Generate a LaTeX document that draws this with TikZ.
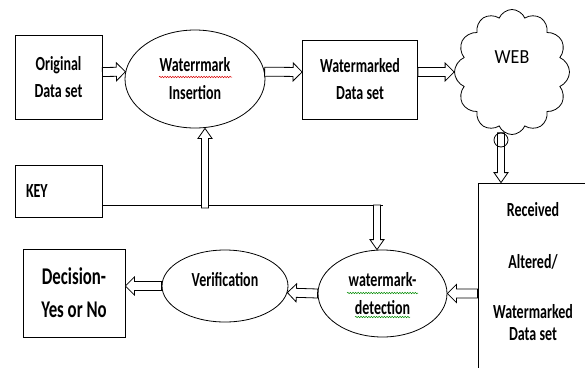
\documentclass[tikz,border=0pt]{standalone}
\usepackage{fontspec}
\newfontfamily\lbl{Carlito}[FakeStretch=0.7]
\newfontfamily\webf{Carlito}[FakeStretch=0.9]
\usetikzlibrary{shapes.geometric,shapes.symbols,calc,decorations.pathmorphing}
\tikzset{
 lw/.style={line width=0.8pt},
 box/.style={draw, lw, rectangle, align=center, font=\lbl\bfseries\fontsize{20}{27}\selectfont},
 oval/.style={draw, lw, ellipse, align=center, font=\lbl\bfseries\fontsize{20}{28}\selectfont},
 hollow/.style n args={3}{to path={
   let \p1=(\tikztostart), \p2=(\tikztotarget),
       \n1={atan2(\y2-\y1,\x2-\x1)}, \n2={veclen(\x2-\x1,\y2-\y1)} in
   (\p1) -- ++(\n1+90:#1) -- ++(\n1:{\n2-#3}) -- ++(\n1+90:{#2-#1}) -- (\p2)
   -- ($(\p2)+(\n1+180:#3)+(\n1-90:#2)$) -- ++(\n1+90:{#2-#1})
   -- ($(\p1)+(\n1-90:#1)$) -- cycle}},
 harr/.style={draw, fill=white, lw, hollow={4.5pt}{9pt}{9pt}},
 varr/.style={draw, fill=white, lw, hollow={3.5pt}{7pt}{10pt}},
 wavy/.style={decorate, decoration={snake, amplitude=0.7pt, segment length=2.6pt}, line width=0.5pt},
}
\begin{document}
\begin{tikzpicture}[x=1pt,y=-1pt]
\useasboundingbox (0,0) rectangle (585,367);
\fill[white] (0,0) rectangle (585,367);
\clip (0,0) rectangle (585,367);

\node[box, minimum width=87pt, minimum height=84pt] (orig) at (58.5,77) {Original\\Data set};
\node[oval, minimum width=140pt, minimum height=98pt] (ins) at (195,79) {Waterrmark\\Insertion};
\node[box, minimum width=115pt, minimum height=79pt] (wm) at (360,79.5) {Watermarked\\Data set};
\node[cloud, draw, lw, cloud puffs=12, cloud puff arc=135, cloud ignores aspect,
      minimum width=115pt, minimum height=125pt,
      label={[font=\webf\fontsize{20}{24}\selectfont, yshift=15pt]center:WEB}] (web) at (512,72) {};
\node[box, minimum width=112pt, minimum height=202pt] (rec) at (534,284) {};
\node[font=\lbl\bfseries\fontsize{20}{22}\selectfont, align=center] (rectext) at (533,272)
  {Received\\[30pt]Altered/\\[28pt]Watermarked\\Data set};
\node[box, minimum width=87pt, minimum height=52pt, text width=65pt, align=left] (key) at (58.5,191) {KEY};
\node[oval, minimum width=129pt, minimum height=87pt] (det) at (382.5,293.5) {watermark-\\detection};
\node[oval, minimum width=126pt, minimum height=72pt, text depth=14pt] (ver) at (225,286) {Verification};
\node[box, minimum width=102pt, minimum height=88pt, font=\lbl\bfseries\fontsize{24}{33}\selectfont] (dec) at (74,293) {Decision-\\Yes or No};

\coordinate (k1) at (205,208);
\coordinate (k2) at (377,205);
\coordinate (kr) at (383,205);

\draw[harr] ([yshift=5pt]orig.east) to (ins.174);
\draw[harr] (ins.6) to ([yshift=7.5pt]wm.west);
\draw[harr] ([yshift=7.5pt]wm.east) to (web.west);
\node[circle, minimum size=14pt, inner sep=0pt] (ring) at (501,140) {};
\draw[varr] (ring.north) to (ring |- rec.north);
\draw[lw] (ring) circle (7pt);

\draw[lw] ([yshift=-14pt]key.east) -- (kr);
\draw[varr] (k1) to (k1 |- ins.south);
\draw[varr] (k2) to (k2 |- det.north);
\draw[harr] (rec.west |- det.east) to (det.east);
\draw[harr] (det.west) to (ver.-6);
\draw[harr] (ver.west) to (ver.west -| dec.east);

\draw[wavy, red!85!black] (159,77) -- (232,77);
\draw[wavy, green!55!black] (347,293) -- (418,293);
\draw[wavy, green!55!black] (355,317) -- (410,317);
\end{tikzpicture}
\end{document}
